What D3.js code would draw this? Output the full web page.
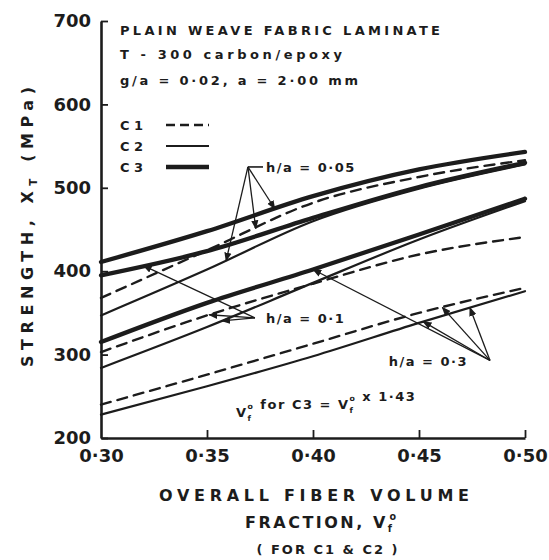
<!DOCTYPE html>
<html>
<head>
<meta charset="utf-8">
<script src="https://cdn.jsdelivr.net/npm/d3@7"></script>
<style>
  body { margin: 0; background: #fff; }
  text { font-family: "DejaVu Sans", sans-serif; fill: #1c1c1c; font-weight: bold; }
</style>
</head>
<body>
<div id="viz"></div>
<script>
// data
const vf = [0.30, 0.35, 0.40, 0.45, 0.50]
const xTicks = [0.30, 0.35, 0.40, 0.45, 0.50]
const yTicks = [200, 300, 400, 500, 600, 700]

// h/a = 0.05
const ha005_c1 = [368, 425, 482, 513, 533]
const ha005_c2 = [347, 402, 460, 499, 528]
const ha005_c3 = [411, 448, 490, 522, 543]
// h/a = 0.1
const ha01_c1 = [303, 347, 385, 420, 441]
const ha01_c2 = [284, 333, 386, 438, 484]
const ha01_c3 = [395, 424, 464, 501, 530]
// h/a = 0.3
const ha03_c1 = [240, 276, 313, 350, 380]
const ha03_c2 = [228, 262, 298, 338, 376]
const ha03_c3 = [315, 362, 402, 444, 487]

let width = 549, height = 560
let ink = "#1c1c1c"

let svg = d3.select("#viz")
  .append("svg")
    .attr("width", width)
    .attr("height", height)

let x = d3.scaleLinear().domain([0.30, 0.50]).range([101, 525])
let y = d3.scaleLinear().domain([200, 700]).range([438, 21])

let styles = {
  c1: {w: 2.4, dash: "10,7"},
  c2: {w: 2.2, dash: null},
  c3: {w: 4.3, dash: null}
}

let series = [
  {ha: "0.05", c: "c1", v: ha005_c1},
  {ha: "0.05", c: "c2", v: ha005_c2},
  {ha: "0.05", c: "c3", v: ha005_c3},
  {ha: "0.1", c: "c1", v: ha01_c1},
  {ha: "0.1", c: "c2", v: ha01_c2},
  {ha: "0.1", c: "c3", v: ha01_c3},
  {ha: "0.3", c: "c1", v: ha03_c1},
  {ha: "0.3", c: "c2", v: ha03_c2},
  {ha: "0.3", c: "c3", v: ha03_c3}
]

let line = d3.line()
  .x(d => x(d[0]))
  .y(d => y(d[1]))
  .curve(d3.curveMonotoneX)

svg.append("g").selectAll("path")
  .data(series)
  .join("path")
    .attr("d", s => line(vf.map((v, i) => [v, s.v[i]])))
    .attr("fill", "none")
    .attr("stroke", ink)
    .attr("stroke-width", s => styles[s.c].w)
    .attr("stroke-dasharray", s => styles[s.c].dash)
    .attr("stroke-linecap", "round")

// axes
let fmt = d => d3.format(".2f")(d).replace(".", "·")

let xAxis = svg.append("g")
  .attr("transform", `translate(0,${y(200)})`)
  .call(d3.axisBottom(x).tickValues(xTicks).tickSizeInner(-8).tickSizeOuter(0).tickPadding(11).tickFormat(fmt))

let yAxis = svg.append("g")
  .attr("transform", `translate(${x(0.30)},0)`)
  .call(d3.axisLeft(y).tickValues(yTicks).tickSizeInner(-7).tickSizeOuter(0).tickPadding(10))

svg.selectAll(".domain").attr("stroke", ink).attr("stroke-width", 2.6)
svg.selectAll(".tick line").attr("stroke", ink).attr("stroke-width", 1.8)
svg.selectAll(".tick text").attr("font-size", 18).attr("fill", ink).attr("font-weight", "bold")
xAxis.selectAll(".tick").filter(d => d === 0.30).select("line").remove()

// title block
let title = [
  {t: "PLAIN WEAVE FABRIC LAMINATE", y: 35, len: 320},
  {t: "T - 300 carbon/epoxy", y: 59, len: 222},
  {t: "g/a = 0·02, a = 2·00 mm", y: 85, len: 238}
]
svg.selectAll(".title")
  .data(title)
  .join("text")
    .attr("class", "title")
    .attr("x", 120)
    .attr("y", d => d.y)
    .attr("font-size", 13)
    .attr("textLength", d => d.len)
    .attr("lengthAdjust", "spacing")
    .text(d => d.t)

// legend
let legend = [
  {label: "C 1", c: "c1", y: 125},
  {label: "C 2", c: "c2", y: 146},
  {label: "C 3", c: "c3", y: 167}
]
let lg = svg.append("g")
lg.selectAll("text")
  .data(legend)
  .join("text")
    .attr("x", 120)
    .attr("y", d => d.y + 5)
    .attr("font-size", 13)
    .text(d => d.label)
lg.selectAll("line")
  .data(legend)
  .join("line")
    .attr("x1", 166).attr("x2", 209)
    .attr("y1", d => d.y).attr("y2", d => d.y)
    .attr("stroke", ink)
    .attr("stroke-width", d => styles[d.c].w)
    .attr("stroke-dasharray", d => d.c === "c1" ? "9,5" : null)

// arrows for h/a labels
svg.append("defs").append("marker")
    .attr("id", "head")
    .attr("viewBox", "0 0 10 8")
    .attr("refX", 9).attr("refY", 4)
    .attr("markerWidth", 7).attr("markerHeight", 6)
    .attr("orient", "auto")
  .append("path")
    .attr("d", "M0,0L10,4L0,8z")
    .attr("fill", ink)

let at = (vals, v) => d3.scaleLinear().domain(vf).range(vals)(v)

let notes = [
  {label: "h/a = 0·05", apex: [0.3693, 525], tx: 266, ty: 172, anchor: "start", stub: true,
   targets: [[ha005_c2, 0.359], [ha005_c1, 0.373], [ha005_c3, 0.382]]},
  {label: "h/a = 0·1", apex: [0.3726, 344], tx: 266, ty: 323, anchor: "start", stub: false,
   targets: [[ha01_c3, 0.32], [ha01_c1, 0.351], [ha01_c2, 0.357]]},
  {label: "h/a = 0·3", apex: [0.4835, 293], tx: 468, ty: 366, anchor: "end", stub: false,
   targets: [[ha03_c3, 0.40], [ha03_c2, 0.452], [ha03_c1, 0.461], [ha03_c2, 0.474]]}
]

notes.forEach(n => {
  let ax = x(n.apex[0]), ay = y(n.apex[1])
  svg.append("g").selectAll("line")
    .data(n.targets)
    .join("line")
      .attr("x1", ax).attr("y1", ay)
      .attr("x2", d => x(d[1]))
      .attr("y2", d => y(at(d[0], d[1])))
      .attr("stroke", ink)
      .attr("stroke-width", 1.3)
      .attr("marker-end", "url(#head)")
  if (n.stub) {
    svg.append("line")
      .attr("x1", ax).attr("x2", n.tx - 3)
      .attr("y1", ay).attr("y2", ay)
      .attr("stroke", ink).attr("stroke-width", 1.6)
  }
  svg.append("text")
    .attr("x", n.tx)
    .attr("y", n.ty)
    .attr("text-anchor", n.anchor)
    .attr("font-size", 13)
    .attr("letter-spacing", 1.5)
    .text(n.label)
})

// V_f helper
function vfText(sel) {
  sel.append("tspan").text("V")
  sel.append("tspan").attr("font-size", "0.6em").attr("dy", 4).text("f")
  sel.append("tspan").attr("font-size", "0.6em").attr("dx", -5).attr("dy", -12).text("o")
  sel.append("tspan").attr("dy", 8).text("")
}

let note = svg.append("text")
  .attr("x", 236)
  .attr("y", 417)
  .attr("font-size", 13)
  .attr("letter-spacing", 1.5)
vfText(note)
note.append("tspan").text(" for C3 = ")
vfText(note)
note.append("tspan").text(" x 1·43")

// x label
svg.append("text")
  .attr("x", 314).attr("y", 501)
  .attr("text-anchor", "middle")
  .attr("font-size", 16)
  .attr("textLength", 310)
  .attr("lengthAdjust", "spacing")
  .text("OVERALL FIBER VOLUME")

let fr = svg.append("text")
  .attr("x", 245).attr("y", 528)
  .attr("font-size", 16)
  .attr("letter-spacing", 2.5)
fr.append("tspan").text("FRACTION, ")
vfText(fr)

svg.append("text")
  .attr("x", 328).attr("y", 554)
  .attr("text-anchor", "middle")
  .attr("font-size", 13)
  .attr("letter-spacing", 2)
  .text("( FOR C1 & C2 )")

// y label
let yl = svg.append("text")
  .attr("transform", "translate(33,227) rotate(-90)")
  .attr("text-anchor", "middle")
  .attr("font-size", 16)
  .attr("textLength", 280)
  .attr("lengthAdjust", "spacing")
yl.append("tspan").text("STRENGTH, X")
yl.append("tspan").attr("font-size", "0.65em").attr("dy", 4).text("T")
yl.append("tspan").attr("dy", -4).text(" (MPa)")
</script>
</body>
</html>
